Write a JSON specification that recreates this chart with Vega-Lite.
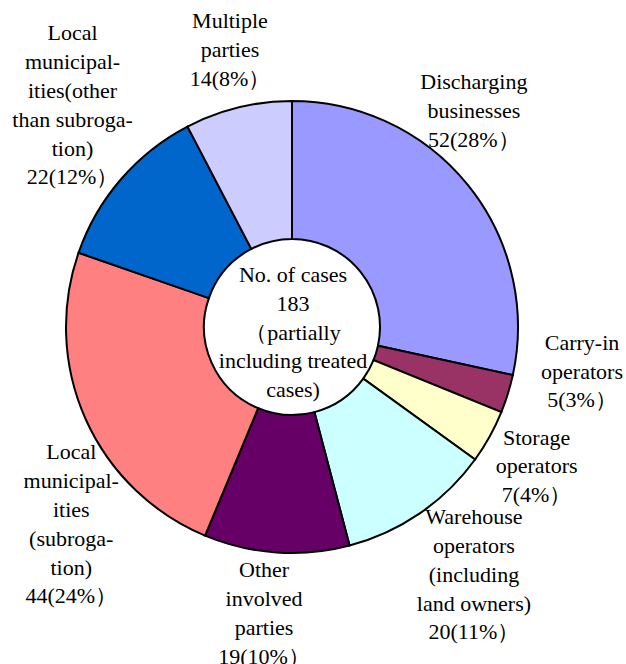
{
  "$schema": "https://vega.github.io/schema/vega-lite/v6.json",
  "width": 584,
  "height": 654,
  "autosize": {"type": "none"},
  "padding": {"left": 0, "top": 0, "right": 42, "bottom": 10},
  "background": "white",
  "config": {
    "view": {"stroke": null},
    "text": {"fontSize": 22, "lineHeight": 28.8, "lineBreak": "\n", "font": "Liberation Serif", "color": "black", "align": "center", "baseline": "middle"}
  },
  "data": {
    "values": [
      {"idx": 1, "category": "Discharging businesses", "count": 52, "label": "Discharging\nbusinesses\n52(28%）"},
      {"idx": 2, "category": "Carry-in operators", "count": 5, "label": "Carry-in\noperators\n5(3%）"},
      {"idx": 3, "category": "Storage operators", "count": 7, "label": "Storage\noperators\n7(4%）"},
      {"idx": 4, "category": "Warehouse operators", "count": 20, "label": "Warehouse\noperators\n(including\nland owners)\n20(11%）"},
      {"idx": 5, "category": "Other involved parties", "count": 19, "label": "Other\ninvolved\nparties\n19(10%）"},
      {"idx": 6, "category": "Local municipalities (subrogation)", "count": 44, "label": "Local\nmunicipal-\nities\n(subroga-\ntion)\n44(24%）"},
      {"idx": 7, "category": "Local municipalities (other than subrogation)", "count": 22, "label": "Local\nmunicipal-\nities(other\nthan subroga-\ntion)\n22(12%）"},
      {"idx": 8, "category": "Multiple parties", "count": 14, "label": "Multiple\nparties\n14(8%）"}
    ]
  },
  "encoding": {
    "theta": {"field": "count", "type": "quantitative", "stack": true},
    "order": {"field": "idx", "type": "quantitative"}
  },
  "layer": [
    {
      "mark": {"type": "arc", "innerRadius": 88, "outerRadius": 226, "stroke": "black", "strokeWidth": 2},
      "encoding": {
        "color": {
          "field": "category",
          "type": "nominal",
          "legend": null,
          "scale": {
            "domain": ["Discharging businesses", "Carry-in operators", "Storage operators", "Warehouse operators", "Other involved parties", "Local municipalities (subrogation)", "Local municipalities (other than subrogation)", "Multiple parties"],
            "range": ["#9999FF", "#993366", "#FFFFCC", "#CCFFFF", "#660066", "#FF8080", "#0066CC", "#CCCCFF"]
          }
        }
      }
    },
    {
      "mark": {"type": "text", "radius": 290, "dx": -44, "dy": -63},
      "encoding": {"text": {"condition": {"test": "datum.category === 'Discharging businesses'", "field": "label"}, "value": ""}}
    },
    {
      "mark": {"type": "text", "radius": 290, "dx": 13, "dy": -70},
      "encoding": {"text": {"condition": {"test": "datum.category === 'Carry-in operators'", "field": "label"}, "value": ""}}
    },
    {
      "mark": {"type": "text", "radius": 290, "dx": -9, "dy": -30},
      "encoding": {"text": {"condition": {"test": "datum.category === 'Storage operators'", "field": "label"}, "value": ""}}
    },
    {
      "mark": {"type": "text", "radius": 290, "dx": 18, "dy": -49},
      "encoding": {"text": {"condition": {"test": "datum.category === 'Warehouse operators'", "field": "label"}, "value": ""}}
    },
    {
      "mark": {"type": "text", "radius": 290, "dx": -8, "dy": -46},
      "encoding": {"text": {"condition": {"test": "datum.category === 'Other involved parties'", "field": "label"}, "value": ""}}
    },
    {
      "mark": {"type": "text", "radius": 290, "dx": 44, "dy": 7},
      "encoding": {"text": {"condition": {"test": "datum.category === 'Local municipalities (subrogation)'", "field": "label"}, "value": ""}}
    },
    {
      "mark": {"type": "text", "radius": 290, "dx": 0, "dy": -104},
      "encoding": {"text": {"condition": {"test": "datum.category === 'Local municipalities (other than subrogation)'", "field": "label"}, "value": ""}}
    },
    {
      "mark": {"type": "text", "radius": 290, "dx": 7, "dy": -24},
      "encoding": {"text": {"condition": {"test": "datum.category === 'Multiple parties'", "field": "label"}, "value": ""}}
    },
    {
      "data": {"values": [{"total": 183, "note": "No. of cases\n183\n（partially\nincluding treated\ncases)"}]},
      "mark": {"type": "text", "dx": 1, "dy": -52},
      "encoding": {
        "theta": null,
        "order": null,
        "text": {"field": "note", "type": "nominal"}
      }
    }
  ]
}
